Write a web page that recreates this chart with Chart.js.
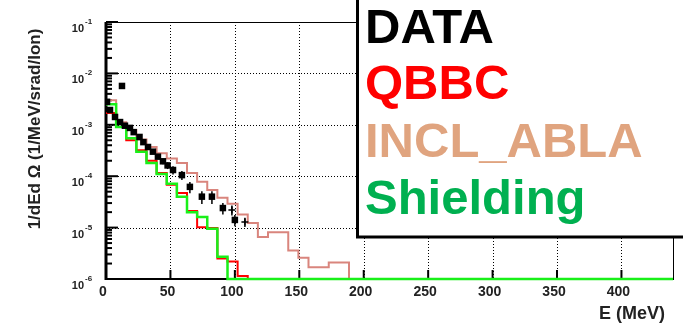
<!DOCTYPE html>
<html lang="en">
<head>
<meta charset="UTF-8">
<title>Fragment energy spectrum</title>
<script src="https://cdn.jsdelivr.net/npm/chart.js"></script>
<style>
  html, body { margin: 0; padding: 0; background: #fff; }
  .wrap { position: relative; width: 683px; height: 323px; }
</style>
</head>
<body>
<div class="wrap"><canvas id="spectrum"></canvas></div>
<script>
// histogram binning (MeV) and axis range
const E_MAX = 440;
const N_BINS = 56;
const Y_MIN = 1e-6;
const Y_MAX = 1e-1;
const xTicks = [0, 50, 100, 150, 200, 250, 300, 350, 400];
const yTicks = [1e-6, 1e-5, 1e-4, 1e-3, 1e-2, 1e-1];

// bin contents, 1/MeV/srad/ion (bins after the last value are empty)
const inclAbla = [3.0e-3, 1.12e-3, 7.9e-4, 5.2e-4, 3.7e-4, 2.8e-4, 2.2e-4, 1.8e-4, 1.15e-4, 7.8e-5,
                  5.4e-5, 3.8e-5, 2.9e-5, 1.8e-5, 1.23e-5, 6.6e-6, 8.1e-6, 8.1e-6, 3.6e-6, 2.6e-6,
                  1.7e-6, 1.7e-6, 2.1e-6, 2.1e-6];
const qbbc = [1.7e-3, 9.1e-4, 5.0e-4, 3.2e-4, 2.0e-4, 1.15e-4, 6.8e-5, 4.7e-5, 2.1e-5, 1.02e-5,
              9.8e-6, 2.5e-6, 2.2e-6, 1.15e-6];
const shielding = [2.5e-3, 9.1e-4, 5.5e-4, 3.0e-4, 1.8e-4, 1.1e-4, 7.1e-5, 4.0e-5, 2.0e-5, 1.6e-5,
                   9.5e-6, 2.7e-6];

// measured points: energy, value, relative error
const dataE   = [0.8, 3.1, 7.0, 10.9, 12.4, 14.7, 18.6, 21.5, 26.0, 29.0, 32.6, 36.4, 40.3, 44.2,
                 47.8, 52.0, 58.9, 65.1, 74.4, 82.2, 90.7, 100.0];
const dataVal = [2.8e-3, 1.94e-3, 1.42e-3, 1.13e-3, 5.7e-3, 9.6e-4, 8.7e-4, 7.2e-4, 5.8e-4, 4.6e-4,
                 3.7e-4, 3.0e-4, 2.4e-4, 1.95e-4, 1.62e-4, 1.32e-4, 1.05e-4, 6.2e-5, 4.0e-5, 4.0e-5,
                 2.4e-5, 1.41e-5];
const dataErr = [0.05, 0.05, 0.05, 0.05, 0.05, 0.05, 0.05, 0.05, 0.06, 0.06, 0.07, 0.08, 0.1, 0.12,
                 0.15, 0.18, 0.2, 0.25, 0.28, 0.28, 0.25, 0.25];
// points drawn without a square marker
const crossE   = [97.7, 107.8];
const crossVal = [2.2e-5, 1.29e-5];
const crossErr = [0.22, 0.2];

const legendLabels = ['DATA', 'QBBC', 'INCL_ABLA', 'Shielding'];
const legendColors = ['#000000', '#ff0000', '#e0a47f', '#00b050'];

const FONT = '"Liberation Sans", Arial, sans-serif';
const BW = E_MAX / N_BINS;

function histPoints(counts) {
    const pts = [];
    for (let i = 0; i < N_BINS; i++) {
        const c = counts[i] || 0;
        pts.push({ x: i * BW, y: c > 0 ? c : Y_MIN });
    }
    pts.push({ x: E_MAX, y: pts[pts.length - 1].y });
    return pts;
}

function supLabel(v) {
    return String(Math.round(Math.log10(v)));
}

// frame, dotted grid, ticks and axis labels in ROOT style
const frame = {
    id: 'frame',
    beforeDatasetsDraw(chart) {
        const { ctx, chartArea: a, scales: { x, y } } = chart;
        ctx.save();
        // dotted grid
        ctx.strokeStyle = '#000';
        ctx.lineWidth = 1;
        ctx.setLineDash([1, 2]);
        xTicks.forEach(t => {
            if (t === 0) return;
            const px = Math.round(x.getPixelForValue(t)) + 0.5;
            ctx.beginPath(); ctx.moveTo(px, a.top); ctx.lineTo(px, a.bottom); ctx.stroke();
        });
        yTicks.forEach(t => {
            if (t === Y_MIN || t === Y_MAX) return;
            const py = Math.round(y.getPixelForValue(t)) + 0.5;
            ctx.beginPath(); ctx.moveTo(a.left, py); ctx.lineTo(a.right, py); ctx.stroke();
        });
        ctx.setLineDash([]);
        // box
        ctx.lineWidth = 1;
        ctx.strokeRect(Math.round(a.left) + 0.5, Math.round(a.top) + 0.5,
                       Math.round(a.right - a.left), Math.round(a.bottom - a.top));
        ctx.lineWidth = 3;
        ctx.beginPath(); ctx.moveTo(a.left, a.top); ctx.lineTo(a.left, a.bottom + 1); ctx.stroke();
        ctx.lineWidth = 2;
        ctx.beginPath(); ctx.moveTo(a.left, a.bottom); ctx.lineTo(a.right, a.bottom); ctx.stroke();
        // y ticks, major and minor
        ctx.lineWidth = 2;
        for (let k = 0; k < yTicks.length; k++) {
            const dec = yTicks[k];
            const py = y.getPixelForValue(dec);
            ctx.beginPath(); ctx.moveTo(a.left, py); ctx.lineTo(a.left + 12, py); ctx.stroke();
            if (dec >= Y_MAX) continue;
            for (let m = 2; m <= 9; m++) {
                const my = y.getPixelForValue(dec * m);
                ctx.beginPath(); ctx.moveTo(a.left, my); ctx.lineTo(a.left + 6, my); ctx.stroke();
            }
        }
        // x ticks
        xTicks.forEach(t => {
            const px = x.getPixelForValue(t);
            ctx.beginPath(); ctx.moveTo(px, a.bottom); ctx.lineTo(px, a.bottom - 9); ctx.stroke();
        });
        // tick labels
        ctx.fillStyle = '#222';
        ctx.textAlign = 'center';
        ctx.textBaseline = 'alphabetic';
        ctx.font = 'bold 14px ' + FONT;
        xTicks.forEach(t => ctx.fillText(String(t), x.getPixelForValue(t) - 3, a.bottom + 17));
        yTicks.forEach(t => {
            const py = y.getPixelForValue(t);
            ctx.textAlign = 'right';
            ctx.font = 'bold 11px ' + FONT;
            ctx.fillText('10', 84, py + 10);
            ctx.textAlign = 'left';
            ctx.font = 'bold 8px ' + FONT;
            ctx.fillText(supLabel(t), 85, py + 2);
        });
        // axis titles
        ctx.font = 'bold 18px ' + FONT;
        ctx.textAlign = 'right';
        ctx.fillText('E (MeV)', 665, 319);
        ctx.save();
        ctx.translate(40, 129);
        ctx.rotate(-Math.PI / 2);
        ctx.textAlign = 'center';
        ctx.font = 'bold 17px ' + FONT;
        ctx.fillText('1/dEd \u03A9 (1/MeV/srad/Ion)', 0, 0);
        ctx.restore();
        ctx.restore();
    },
    afterDatasetsDraw(chart) {
        const { ctx, scales: { x, y } } = chart;
        ctx.save();
        ctx.strokeStyle = '#000';
        ctx.lineWidth = 1.5;
        const bars = (es, vs, errs) => es.forEach((e, i) => {
            const px = x.getPixelForValue(e);
            ctx.beginPath();
            ctx.moveTo(px, y.getPixelForValue(vs[i] * (1 - errs[i])));
            ctx.lineTo(px, y.getPixelForValue(vs[i] * (1 + errs[i])));
            ctx.stroke();
        });
        bars(dataE, dataVal, dataErr);
        bars(crossE, crossVal, crossErr);
        ctx.restore();
    },
    afterDraw(chart) {
        const { ctx } = chart;
        ctx.save();
        // legend panel sticking out of the top right corner
        ctx.fillStyle = '#fff';
        ctx.fillRect(356, -5, 340, 243);
        ctx.strokeStyle = '#000';
        ctx.lineWidth = 3;
        ctx.strokeRect(357.5, -5, 340, 242);
        ctx.font = 'bold 49px ' + FONT;
        ctx.textAlign = 'left';
        ctx.textBaseline = 'alphabetic';
        const baselines = [43, 99, 157, 214];
        legendLabels.forEach((lab, i) => {
            ctx.fillStyle = legendColors[i];
            ctx.fillText(lab, 365, baselines[i]);
        });
        ctx.restore();
    }
};

new Chart(document.getElementById('spectrum'), {
    type: 'line',
    data: {
        datasets: [
            {
                label: 'DATA',
                data: dataE.map((e, i) => ({ x: e, y: dataVal[i] })),
                showLine: false,
                pointStyle: 'rect',
                pointRadius: 4.6,
                backgroundColor: '#000',
                borderColor: '#000',
                borderWidth: 0,
                order: 0
            },
            {
                label: 'DATA (no marker)',
                data: crossE.map((e, i) => ({ x: e, y: crossVal[i] })),
                showLine: false,
                pointStyle: 'cross',
                pointRadius: 3.5,
                borderColor: '#000',
                borderWidth: 1.5,
                order: 0
            },
            {
                label: 'Shielding',
                data: histPoints(shielding),
                borderColor: '#19f019',
                borderWidth: 2.5,
                pointRadius: 0,
                stepped: true,
                clip: false,
                order: 1
            },
            {
                label: 'QBBC',
                data: histPoints(qbbc),
                borderColor: '#ff0000',
                borderWidth: 2,
                pointRadius: 0,
                stepped: true,
                clip: false,
                order: 2
            },
            {
                label: 'INCL_ABLA',
                data: histPoints(inclAbla),
                borderColor: '#d9857d',
                borderWidth: 2,
                pointRadius: 0,
                stepped: true,
                clip: false,
                order: 3
            }
        ]
    },
    options: {
        animation: false,
        responsive: true,
        maintainAspectRatio: false,
        layout: { padding: { left: 106, top: 22, right: 10, bottom: 44 } },
        scales: {
            x: { type: 'linear', min: 0, max: E_MAX, display: false },
            y: { type: 'logarithmic', min: Y_MIN, max: Y_MAX, display: false }
        },
        plugins: { legend: { display: false }, tooltip: { enabled: false } }
    },
    plugins: [frame]
});
</script>
</body>
</html>
